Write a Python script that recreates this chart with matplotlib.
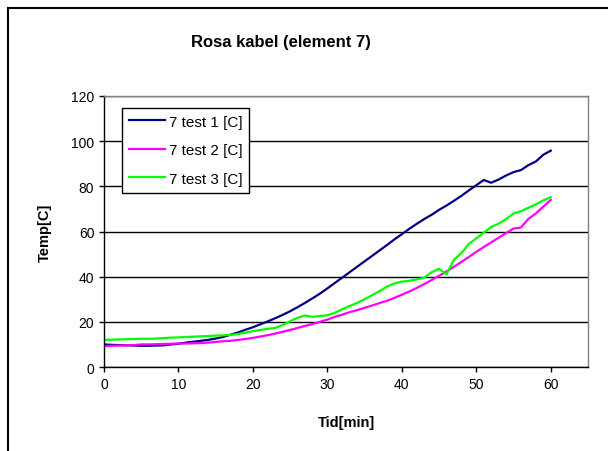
import matplotlib.pyplot as plt
from matplotlib.patches import Rectangle

# --- DATA ---
tid = list(range(0, 61))  # minutes

test1 = [10.0, 9.8, 9.7, 9.6, 9.5, 9.4, 9.4, 9.5, 9.6, 10.0,
         10.3, 10.8, 11.2, 11.6, 12.0, 12.6, 13.3, 14.3, 15.3, 16.5,
         17.6, 18.9, 20.2, 21.6, 23.1, 24.7, 26.5, 28.4, 30.4, 32.5,
         34.8, 37.2, 39.6, 42.0, 44.4, 46.8, 49.2, 51.6, 54.0, 56.5,
         58.8, 61.2, 63.4, 65.5, 67.4, 69.6, 71.5, 73.6, 75.8, 78.2,
         80.5, 82.8, 81.6, 83.0, 84.8, 86.3, 87.2, 89.4, 91.0, 94.0,
         95.8]

test2 = [9.3, 9.4, 9.5, 9.6, 9.7, 10.0, 10.0, 10.1, 10.2, 10.3,
         10.4, 10.4, 10.5, 10.6, 10.8, 11.1, 11.4, 11.6, 12.0, 12.4,
         12.9, 13.5, 14.1, 14.8, 15.6, 16.4, 17.3, 18.2, 19.0, 20.0,
         21.0, 22.2, 23.2, 24.3, 25.2, 26.2, 27.2, 28.3, 29.3, 30.6,
         32.0, 33.4, 35.0, 36.7, 38.5, 40.4, 42.3, 44.4, 46.5, 48.7,
         51.0, 53.1, 55.2, 57.2, 59.3, 61.3, 61.8, 65.6, 68.0, 71.0,
         74.0]

test3 = [12.0, 12.1, 12.2, 12.3, 12.4, 12.5, 12.5, 12.6, 12.8, 13.0,
         13.1, 13.3, 13.4, 13.6, 13.7, 13.9, 14.0, 14.2, 14.6, 15.2,
         15.9, 16.4, 16.9, 17.3, 18.6, 20.3, 21.8, 22.8, 22.2, 22.6,
         22.9, 24.0, 25.6, 27.0, 28.4, 30.0, 31.8, 33.6, 35.6, 37.0,
         37.8, 38.2, 38.8, 39.5, 42.0, 43.5, 41.0, 47.5, 50.5, 54.5,
         57.0, 59.5, 62.0, 63.5, 65.5, 68.0, 69.0, 70.5, 72.0, 73.8,
         75.2]

labels = ['7 test 1 [C]', '7 test 2 [C]', '7 test 3 [C]']
colors = ['#000080', '#ff00ff', '#00ff00']

plt.rcParams['font.family'] = ['Liberation Sans', 'DejaVu Sans']

fig = plt.figure(figsize=(6.08, 4.52), dpi=100)
ax = fig.add_axes([104/608, 1 - 368/452, 484/608, 271/452])

for y, lab, c in zip([test1, test2, test3], labels, colors):
    ax.plot(tid, y, color=c, lw=1.6, label=lab)

ax.set_xlim(0, 65)
ax.set_ylim(0, 120)
ax.set_xticks(range(0, 61, 10))
ax.set_yticks(range(0, 121, 20))
ax.tick_params(direction='out', length=3.5, width=1, labelsize=10, colors='black')
ax.grid(axis='y', color='black', lw=1)
ax.set_axisbelow(True)

for s in ['left', 'bottom']:
    ax.spines[s].set_color('black')
    ax.spines[s].set_linewidth(1)
for s in ['top', 'right']:
    ax.spines[s].set_color('#808080')
    ax.spines[s].set_linewidth(1)

leg = ax.legend(loc='upper left', bbox_to_anchor=(0.037, 0.956), borderaxespad=0,
                fontsize=11, frameon=True, fancybox=False, framealpha=1,
                edgecolor='black', handlelength=2.4, handletextpad=0.2,
                labelspacing=0.95, borderpad=0.45)
leg.get_frame().set_linewidth(1)

fig.text(281/608, 1 - 43/452, 'Rosa kabel (element 7)', ha='center', va='center',
         fontsize=12, fontweight='bold')
fig.text(346/608, 1 - 423/452, 'Tid[min]', ha='center', va='center',
         fontsize=10.5, fontweight='bold')
fig.text(45/608, 1 - 233/452, 'Temp[C]', ha='center', va='center', rotation=90,
         fontsize=10.5, fontweight='bold')

# outer chart frame (left and top edges visible)
fig.add_artist(Rectangle((8/608, -0.1), 1.2, 1.1 - 9.5/452, transform=fig.transFigure,
                         fill=False, edgecolor='black', lw=1.5, clip_on=False))

fig.savefig('out.png', dpi=100)
